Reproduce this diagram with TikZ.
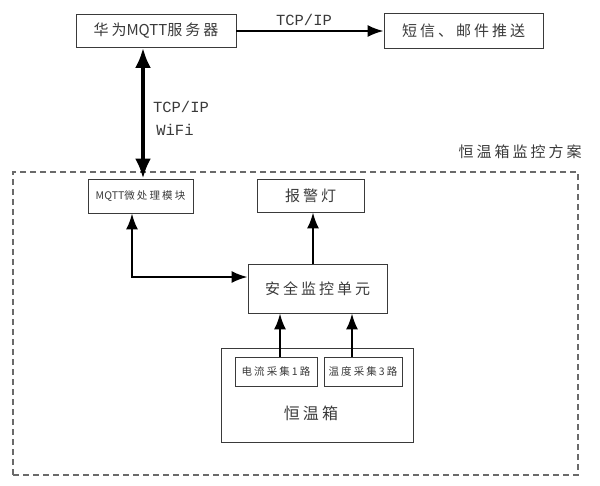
\documentclass[tikz,border=0pt]{standalone}
\usepackage{fontspec}
\usetikzlibrary{arrows.meta}
\newfontfamily\cjk{Noto Sans CJK SC}[LetterSpace=20]
\newfontfamily\cjkn{Noto Sans CJK SC}
\newfontfamily\latn{Liberation Mono}
\definecolor{boxgray}{HTML}{3A3A3A}
\definecolor{dashgray}{HTML}{6A6A6A}

\begin{document}
\begin{tikzpicture}[x=1pt,y=-1pt,
  box/.style={draw=boxgray,line width=0.9pt,text=boxgray,inner sep=0pt},
  bigtxt/.style={font=\fontsize{15}{18}\selectfont\cjk},
  smalltxt/.style={font=\fontsize{10.5}{12}\selectfont\cjk},
  netlbl/.style={text=boxgray,font=\fontsize{15.5}{18}\selectfont\latn},
  link/.style={line width=2pt,-{Latex[length=16pt,width=12pt]}}]
  \useasboundingbox (0,0) rectangle (600,485);
  \node[draw=dashgray,dashed,dash pattern=on 6pt off 4pt,line width=1.1pt,
    minimum width=565,minimum height=303] (panel) at (295.5,323.5) {};
  \node[text=boxgray,bigtxt] (title) at (520,152) {恒温箱监控方案};
  \node[box,minimum width=160,minimum height=33] (server) at (156,31)
    {\fontsize{15}{18}\selectfont{\cjk 华为}{\cjkn MQTT}{\cjk 服务器}};
  \node[box,bigtxt,minimum width=159,minimum height=35] (sms) at (463.5,31) {短信、邮件推送};
  \node[box,minimum width=105,minimum height=34] (mqtt) at (140.5,196)
    {\fontsize{10.5}{12}\selectfont{\cjkn MQTT}{\cjk 微处理模块}};
  \node[box,bigtxt,minimum width=107,minimum height=33] (alarm) at (310.5,195.5) {报警灯};
  \node[box,bigtxt,minimum width=139,minimum height=49] (safe) at (317.5,288.5) {安全监控单元};
  \node[box,minimum width=192,minimum height=94] (oven) at (317,395) {};
  \node[text=boxgray,font=\fontsize{16}{18}\selectfont\cjk] (ovenlbl) at (311,413) {恒温箱};
  \node[box,smalltxt,minimum width=82,minimum height=29] (cur) at (276,371.5) {电流采集1路};
  \node[box,smalltxt,minimum width=78,minimum height=29] (temp) at (363,371.5) {温度采集3路};

  \draw[link] (server.east) -- (sms.west);
  \node[netlbl] (tcp1) at (304,20) {TCP/IP};
  \draw[line width=3.5pt,{Latex[length=20pt,width=16pt]}-{Latex[length=20pt,width=16pt]}]
    ([xshift=2.5pt]mqtt.north) -- ([xshift=2.5pt]mqtt.north |- server.south);
  \node[netlbl] (tcp2) at (181,107) {TCP/IP};
  \node[netlbl] (wifi) at (175,130) {WiFi};
  \draw[line width=2pt,{Latex[length=16pt,width=12pt]}-{Latex[length=16pt,width=12pt]}]
    ([xshift=-8.5pt]mqtt.south) |- ([yshift=11.5pt]safe.west);
  \draw[link] ([xshift=2.5pt]alarm.south |- safe.north) -- ([xshift=2.5pt]alarm.south);
  \draw[link] ([xshift=4pt]cur.north) -- ([xshift=4pt]cur.north |- safe.south);
  \draw[link] ([xshift=-11pt]temp.north) -- ([xshift=-11pt]temp.north |- safe.south);
\end{tikzpicture}
\end{document}
